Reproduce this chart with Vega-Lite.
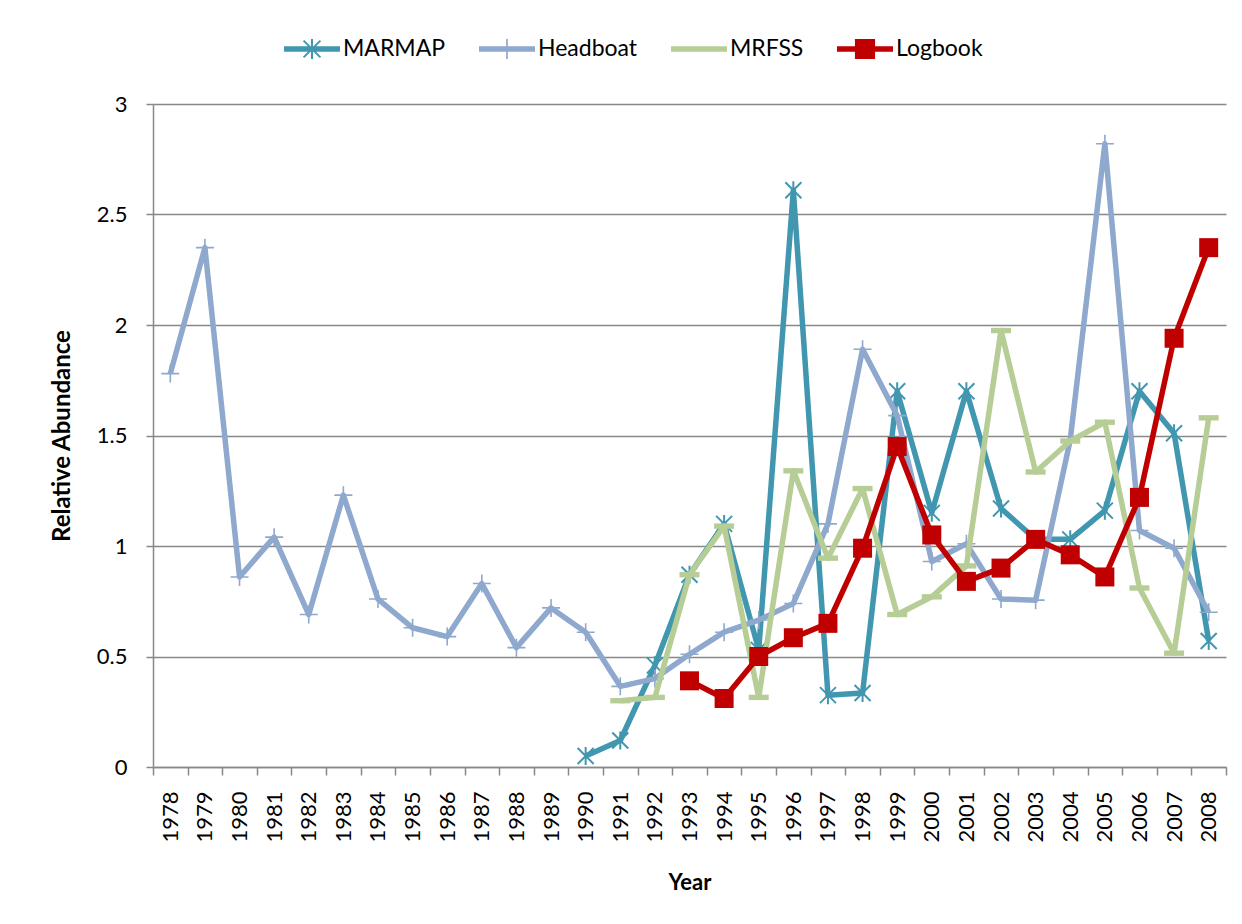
{
  "$schema": "https://vega.github.io/schema/vega-lite/v6.json",
  "width": 1073,
  "height": 663,
  "autosize": "none",
  "padding": {"left": 153, "top": 104, "right": 16, "bottom": 157},
  "background": "white",
  "config": {"font": "Lato", "view": {"stroke": null}},
  "data": {
    "values": [
      {"year": 1990, "series": "MARMAP", "value": 0.05},
      {"year": 1991, "series": "MARMAP", "value": 0.12},
      {"year": 1992, "series": "MARMAP", "value": 0.46},
      {"year": 1993, "series": "MARMAP", "value": 0.87},
      {"year": 1994, "series": "MARMAP", "value": 1.10},
      {"year": 1995, "series": "MARMAP", "value": 0.53},
      {"year": 1996, "series": "MARMAP", "value": 2.61},
      {"year": 1997, "series": "MARMAP", "value": 0.325},
      {"year": 1998, "series": "MARMAP", "value": 0.335},
      {"year": 1999, "series": "MARMAP", "value": 1.70},
      {"year": 2000, "series": "MARMAP", "value": 1.15},
      {"year": 2001, "series": "MARMAP", "value": 1.70},
      {"year": 2002, "series": "MARMAP", "value": 1.17},
      {"year": 2003, "series": "MARMAP", "value": 1.03},
      {"year": 2004, "series": "MARMAP", "value": 1.03},
      {"year": 2005, "series": "MARMAP", "value": 1.16},
      {"year": 2006, "series": "MARMAP", "value": 1.70},
      {"year": 2007, "series": "MARMAP", "value": 1.51},
      {"year": 2008, "series": "MARMAP", "value": 0.57},
      {"year": 1978, "series": "Headboat", "value": 1.78},
      {"year": 1979, "series": "Headboat", "value": 2.35},
      {"year": 1980, "series": "Headboat", "value": 0.86},
      {"year": 1981, "series": "Headboat", "value": 1.04},
      {"year": 1982, "series": "Headboat", "value": 0.69},
      {"year": 1983, "series": "Headboat", "value": 1.23},
      {"year": 1984, "series": "Headboat", "value": 0.76},
      {"year": 1985, "series": "Headboat", "value": 0.63},
      {"year": 1986, "series": "Headboat", "value": 0.59},
      {"year": 1987, "series": "Headboat", "value": 0.83},
      {"year": 1988, "series": "Headboat", "value": 0.54},
      {"year": 1989, "series": "Headboat", "value": 0.72},
      {"year": 1990, "series": "Headboat", "value": 0.61},
      {"year": 1991, "series": "Headboat", "value": 0.365},
      {"year": 1992, "series": "Headboat", "value": 0.40},
      {"year": 1993, "series": "Headboat", "value": 0.51},
      {"year": 1994, "series": "Headboat", "value": 0.61},
      {"year": 1995, "series": "Headboat", "value": 0.665},
      {"year": 1996, "series": "Headboat", "value": 0.74},
      {"year": 1997, "series": "Headboat", "value": 1.10},
      {"year": 1998, "series": "Headboat", "value": 1.89},
      {"year": 1999, "series": "Headboat", "value": 1.59},
      {"year": 2000, "series": "Headboat", "value": 0.93},
      {"year": 2001, "series": "Headboat", "value": 1.01},
      {"year": 2002, "series": "Headboat", "value": 0.76},
      {"year": 2003, "series": "Headboat", "value": 0.755},
      {"year": 2004, "series": "Headboat", "value": 1.48},
      {"year": 2005, "series": "Headboat", "value": 2.82},
      {"year": 2006, "series": "Headboat", "value": 1.07},
      {"year": 2007, "series": "Headboat", "value": 0.99},
      {"year": 2008, "series": "Headboat", "value": 0.70},
      {"year": 1991, "series": "MRFSS", "value": 0.30},
      {"year": 1992, "series": "MRFSS", "value": 0.315},
      {"year": 1993, "series": "MRFSS", "value": 0.87},
      {"year": 1994, "series": "MRFSS", "value": 1.09},
      {"year": 1995, "series": "MRFSS", "value": 0.315},
      {"year": 1996, "series": "MRFSS", "value": 1.34},
      {"year": 1997, "series": "MRFSS", "value": 0.945},
      {"year": 1998, "series": "MRFSS", "value": 1.26},
      {"year": 1999, "series": "MRFSS", "value": 0.69},
      {"year": 2000, "series": "MRFSS", "value": 0.77},
      {"year": 2001, "series": "MRFSS", "value": 0.91},
      {"year": 2002, "series": "MRFSS", "value": 1.975},
      {"year": 2003, "series": "MRFSS", "value": 1.335},
      {"year": 2004, "series": "MRFSS", "value": 1.475},
      {"year": 2005, "series": "MRFSS", "value": 1.56},
      {"year": 2006, "series": "MRFSS", "value": 0.81},
      {"year": 2007, "series": "MRFSS", "value": 0.515},
      {"year": 2008, "series": "MRFSS", "value": 1.58},
      {"year": 1993, "series": "Logbook", "value": 0.39},
      {"year": 1994, "series": "Logbook", "value": 0.31},
      {"year": 1995, "series": "Logbook", "value": 0.50},
      {"year": 1996, "series": "Logbook", "value": 0.585},
      {"year": 1997, "series": "Logbook", "value": 0.65},
      {"year": 1998, "series": "Logbook", "value": 0.99},
      {"year": 1999, "series": "Logbook", "value": 1.45},
      {"year": 2000, "series": "Logbook", "value": 1.05},
      {"year": 2001, "series": "Logbook", "value": 0.84},
      {"year": 2002, "series": "Logbook", "value": 0.90},
      {"year": 2003, "series": "Logbook", "value": 1.03},
      {"year": 2004, "series": "Logbook", "value": 0.96},
      {"year": 2005, "series": "Logbook", "value": 0.86},
      {"year": 2006, "series": "Logbook", "value": 1.22},
      {"year": 2007, "series": "Logbook", "value": 1.94},
      {"year": 2008, "series": "Logbook", "value": 2.35}
    ]
  },
  "encoding": {
    "x": {
      "field": "year",
      "type": "ordinal",
      "bandPosition": 0.5,
      "scale": {"type": "band", "paddingInner": 0, "paddingOuter": 0},
      "axis": {
        "tickBand": "extent",
        "labelAngle": -90,
        "labelFontSize": 22,
        "labelColor": "black",
        "labelPadding": 16,
        "domainColor": "#888888",
        "domainWidth": 1.5,
        "tickColor": "#888888",
        "tickWidth": 1.5,
        "tickSize": 8,
        "grid": false,
        "title": "Year",
        "titleFontSize": 22,
        "titleFontWeight": "bold",
        "titleColor": "black",
        "titlePadding": 30
      }
    },
    "y": {
      "field": "value",
      "type": "quantitative",
      "scale": {"domain": [0, 3], "nice": false},
      "axis": {
        "values": [0, 0.5, 1, 1.5, 2, 2.5, 3],
        "format": "~g",
        "labelFontSize": 22,
        "labelColor": "black",
        "labelPadding": 19,
        "domainColor": "#888888",
        "domainWidth": 1.5,
        "tickColor": "#888888",
        "tickWidth": 1.5,
        "tickSize": 7,
        "grid": true,
        "gridColor": "#888888",
        "gridWidth": 1.5,
        "title": "Relative Abundance",
        "titleFontSize": 24,
        "titleFontWeight": "bold",
        "titleColor": "black",
        "titlePadding": 22
      }
    },
    "color": {
      "field": "series",
      "type": "nominal",
      "scale": {
        "domain": ["MARMAP", "Headboat", "MRFSS", "Logbook"],
        "range": ["#4197AF", "#8EA8CE", "#B7CD96", "#C00000"]
      },
      "legend": {
        "orient": "none",
        "legendX": 131,
        "legendY": -83,
        "direction": "horizontal",
        "title": null,
        "padding": 0,
        "labelFontSize": 23,
        "labelColor": "black",
        "labelOffset": 3,
        "columnPadding": 33,
        "symbolSize": 3136,
        "symbolStrokeWidth": 0,
        "encode": {
          "symbols": {
            "update": {
              "shape": {"signal": "datum.value === 'MARMAP' ? 'M-1,-0.5M1,0.5M-1,-0.1H1V0.1H-1Z M-0.036,-0.36H0.036V0.36H-0.036Z M-0.275,-0.325L0.325,0.275L0.275,0.325L-0.325,-0.275Z M-0.325,0.275L0.275,-0.325L0.325,-0.275L-0.275,0.325Z' : datum.value === 'Headboat' ? 'M-1,-0.5M1,0.5M-1,-0.1H1V0.1H-1Z M-0.03,-0.36H0.03V0.36H-0.03Z' : datum.value === 'MRFSS' ? 'M-1,-0.5M1,0.5M-1,-0.1H1V0.1H-1Z' : 'M-1,-0.5M1,0.5M-1,-0.1H1V0.1H-1Z M-0.36,-0.36H0.36V0.36H-0.36Z'"},
              "fill": {"scale": "color", "field": "value"},
              "stroke": {"value": "transparent"},
              "strokeWidth": {"value": 0},
              "opacity": {"value": 1},
              "size": {"value": 3136}
            }
          }
        }
      }
    }
  },
  "layer": [
    {
      "transform": [{"filter": {"field": "series", "equal": "MARMAP"}}],
      "mark": {"type": "line", "strokeWidth": 5.5, "strokeJoin": "round"}
    },
    {
      "transform": [{"filter": {"field": "series", "equal": "MARMAP"}}],
      "mark": {"type": "point", "filled": true, "size": 400, "strokeWidth": 0, "opacity": 1,
        "shape": "M-0.1,-0.9H0.1V0.9H-0.1Z M-0.73,-0.87L0.87,0.73L0.73,0.87L-0.87,-0.73Z M-0.87,0.73L0.73,-0.87L0.87,-0.73L-0.73,0.87Z"}
    },
    {
      "transform": [{"filter": {"field": "series", "equal": "Headboat"}}],
      "mark": {"type": "line", "strokeWidth": 5.5, "strokeJoin": "round"}
    },
    {
      "transform": [{"filter": {"field": "series", "equal": "Headboat"}}],
      "mark": {"type": "point", "filled": true, "size": 400, "strokeWidth": 0, "opacity": 1,
        "shape": "M-0.9,-0.08H0.9V0.08H-0.9Z M-0.08,-0.9H0.08V0.9H-0.08Z"}
    },
    {
      "transform": [{"filter": {"field": "series", "equal": "MRFSS"}}],
      "mark": {"type": "line", "strokeWidth": 5.5, "strokeJoin": "round"}
    },
    {
      "transform": [{"filter": {"field": "series", "equal": "MRFSS"}}],
      "mark": {"type": "point", "filled": true, "size": 400, "strokeWidth": 0, "opacity": 1,
        "shape": "M-1,-0.27H1V0.27H-1Z"}
    },
    {
      "transform": [{"filter": {"field": "series", "equal": "Logbook"}}],
      "mark": {"type": "line", "strokeWidth": 5.5, "strokeJoin": "round"}
    },
    {
      "transform": [{"filter": {"field": "series", "equal": "Logbook"}}],
      "mark": {"type": "point", "filled": true, "size": 400, "strokeWidth": 0, "opacity": 1,
        "shape": "M-0.95,-0.95H0.95V0.95H-0.95Z"}
    }
  ]
}
